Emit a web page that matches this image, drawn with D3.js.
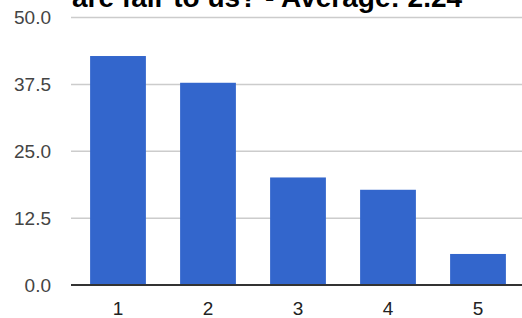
<!DOCTYPE html>
<html>
<head>
<meta charset="utf-8">
<script src="https://cdn.jsdelivr.net/npm/d3@7"></script>
<style>
  body { margin: 0; background: #fff; }
  svg { display: block; }
</style>
</head>
<body>
<div id="chart"></div>
<script>
const categories = ["1", "2", "3", "4", "5"];
const values = [42.8, 37.8, 20.1, 17.8, 5.8];
const yTicks = [0, 12.5, 25, 37.5, 50];
const title = "are fair to us? - Average: 2.24";

const width = 522;
const height = 318;

const svg = d3.select("#chart").append("svg").attr("width", width).attr("height", height);

// plot area
const plotLeft = 71;
const plotRight = 522;
const plotTop = 17.5;
const plotBottom = 285;

const x = d3.scaleBand().domain(categories).range([73, 523]).paddingInner(0.38).paddingOuter(0.19);
const y = d3.scaleLinear().domain([0, 50]).range([plotBottom, plotTop]);

// gridlines
svg
  .selectAll(".grid")
  .data(yTicks.filter((d) => d > 0))
  .enter()
  .append("line")
  .attr("x1", plotLeft)
  .attr("x2", plotRight)
  .attr("y1", (d) => y(d))
  .attr("y2", (d) => y(d))
  .attr("stroke", "#cccccc")
  .attr("stroke-width", 1.5);

// y labels
svg
  .selectAll(".ylab")
  .data(yTicks)
  .enter()
  .append("text")
  .attr("x", 51)
  .attr("y", (d) => y(d))
  .attr("text-anchor", "end")
  .attr("dominant-baseline", "central")
  .attr("font-family", "Liberation Sans, Arial, sans-serif")
  .attr("font-size", "19px")
  .attr("fill", "#444")
  .text((d) => d.toFixed(1));

// bars
svg
  .selectAll(".bar")
  .data(values)
  .enter()
  .append("rect")
  .attr("x", (d, i) => x(categories[i]))
  .attr("width", x.bandwidth())
  .attr("y", (d) => y(d))
  .attr("height", (d) => y(0) - y(d))
  .attr("fill", "#3366cc");

// baseline
svg
  .append("line")
  .attr("x1", plotLeft)
  .attr("x2", plotRight)
  .attr("y1", y(0))
  .attr("y2", y(0))
  .attr("stroke", "#333")
  .attr("stroke-width", 2);

// x labels
svg
  .selectAll(".xlab")
  .data(categories)
  .enter()
  .append("text")
  .attr("x", (d) => x(d) + x.bandwidth() / 2)
  .attr("y", 315)
  .attr("text-anchor", "middle")
  .attr("font-family", "Liberation Sans, Arial, sans-serif")
  .attr("font-size", "19px")
  .attr("fill", "#222")
  .text((d) => d);

// title, clipped by the top edge as in the original screenshot
svg
  .append("text")
  .attr("x", 72)
  .attr("y", 7)
  .attr("font-family", "Liberation Sans, Arial, sans-serif")
  .attr("font-weight", "bold")
  .attr("font-size", "28px")
  .attr("fill", "#000")
  .text(title);
</script>
</body>
</html>
